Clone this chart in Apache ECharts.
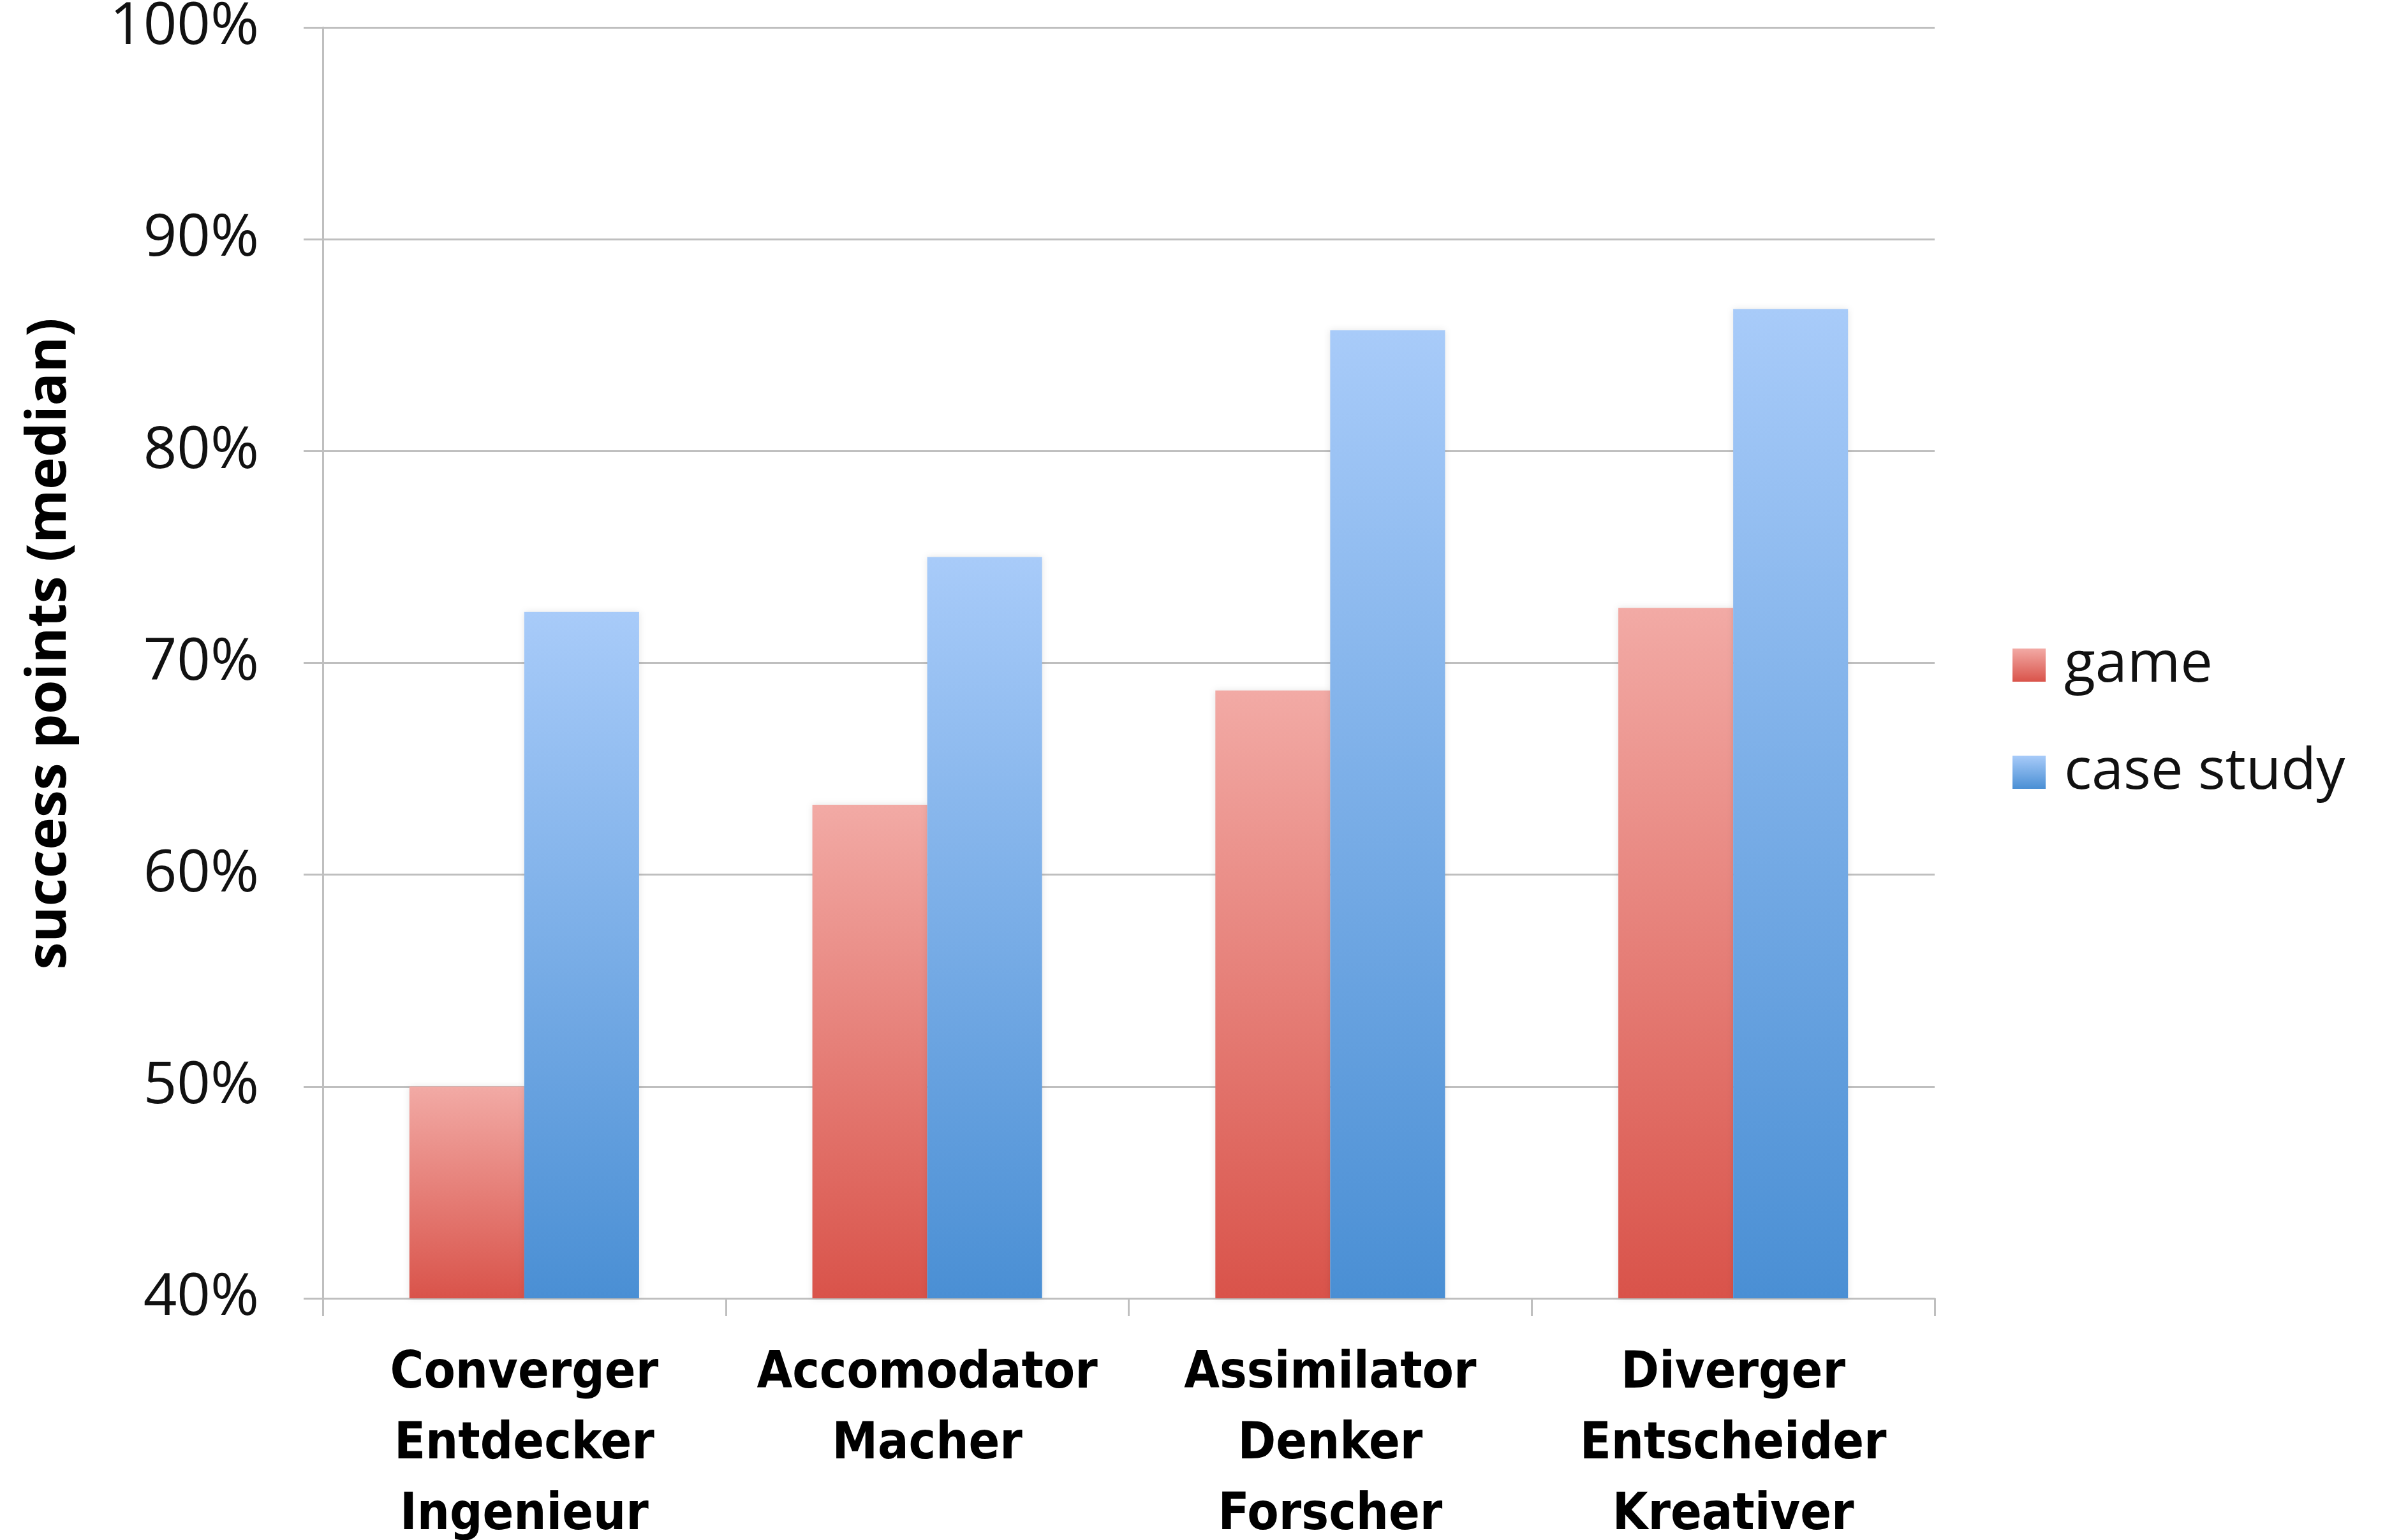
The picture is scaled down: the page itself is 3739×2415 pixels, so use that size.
<!DOCTYPE html>
<html>
<head>
<meta charset="utf-8">
<title>success points (median)</title>
<script src="https://cdn.jsdelivr.net/npm/echarts@6/dist/echarts.min.js"></script>
<style>
  html, body { margin: 0; padding: 0; background: #ffffff; }
  #chart { width: 3739px; height: 2415px; }
</style>
</head>
<body>
<div id="chart"></div>
<script>
// Learning-style groups (Kolb / German names), one label line per name
const categories = [
  'Converger\nEntdecker\nIngenieur',
  'Accomodator\nMacher',
  'Assimilator\nDenker\nForscher',
  'Diverger\nEntscheider\nKreativer'
];
// Median success points in percent
const gameValues = [50.0, 63.3, 68.7, 72.6];
const caseStudyValues = [72.4, 75.0, 85.7, 86.7];
const seriesNames = ['game', 'case study'];
const yAxisTitle = 'success points (median)';

const gridGrey = '#bfbfbf';

// Pick the first installed condensed bold face for the category labels
function pickCondensed() {
  const ctx = document.createElement('canvas').getContext('2d');
  const probe = 'Converger Entscheider';
  ctx.font = 'bold 96px monospace';
  const mono = ctx.measureText(probe).width;
  ctx.font = 'bold 96px serif';
  const serif = ctx.measureText(probe).width;
  const candidates = [
    ['Liberation Sans Narrow', 96],
    ['DejaVu Sans Condensed', 80],
    ['Roboto Condensed', 96],
    ['Open Sans Condensed', 96]
  ];
  for (const [fam, size] of candidates) {
    ctx.font = 'bold 96px "' + fam + '", monospace';
    const a = ctx.measureText(probe).width;
    ctx.font = 'bold 96px "' + fam + '", serif';
    const b = ctx.measureText(probe).width;
    if (a !== mono && b !== serif) return { family: '"' + fam + '"', size: size };
  }
  return { family: 'Roboto', size: 80 };
}
const catFont = pickCondensed();

function vGradient(top, bottom) {
  return new echarts.graphic.LinearGradient(0, 0, 0, 1, [
    { offset: 0, color: top },
    { offset: 1, color: bottom }
  ]);
}

const chart = echarts.init(document.getElementById('chart'));
chart.setOption({
  animation: false,
  backgroundColor: '#ffffff',
  grid: { left: 506, right: 706, top: 43, bottom: 379, outerBoundsMode: 'none' },
  legend: {
    orient: 'vertical',
    left: 3150,
    top: 993,
    itemWidth: 52,
    itemHeight: 52,
    itemGap: 78,
    icon: 'rect',
    textStyle: { fontFamily: 'Open Sans', fontSize: 90, color: '#111111', padding: [0, 0, 0, 24] },
    data: seriesNames
  },
  xAxis: {
    type: 'category',
    data: categories,
    axisLine: { show: true, lineStyle: { color: gridGrey, width: 3 } },
    axisTick: { show: true, length: 28, lineStyle: { color: gridGrey, width: 3 } },
    axisLabel: {
      interval: 0,
      margin: 64,
      fontFamily: catFont.family,
      fontWeight: 'bold',
      fontSize: catFont.size,
      lineHeight: 111,
      color: '#000000'
    }
  },
  yAxis: {
    type: 'value',
    min: 40,
    max: 100,
    interval: 10,
    name: yAxisTitle,
    nameLocation: 'middle',
    nameGap: 385,
    nameTextStyle: {
      fontFamily: 'Open Sans',
      fontWeight: 'bold',
      fontSize: 86,
      color: '#000000',
      padding: [0, 0, 0, 60]
    },
    axisLine: { show: true, lineStyle: { color: gridGrey, width: 3 } },
    axisTick: { show: true, length: 30, lineStyle: { color: gridGrey, width: 3 } },
    axisLabel: {
      margin: 100,
      formatter: '{value}%',
      fontFamily: 'Open Sans',
      fontSize: 92,
      color: '#111111'
    },
    splitLine: { show: true, lineStyle: { color: gridGrey, width: 3 } }
  },
  series: [
    {
      name: seriesNames[0],
      type: 'bar',
      data: gameValues,
      barGap: '0%',
      barCategoryGap: '43%',
      itemStyle: {
        color: vGradient('#f2aaa5', '#d9534a'),
        shadowColor: 'rgba(0,0,0,0.10)',
        shadowBlur: 10
      }
    },
    {
      name: seriesNames[1],
      type: 'bar',
      data: caseStudyValues,
      barGap: '0%',
      barCategoryGap: '43%',
      itemStyle: {
        color: vGradient('#a8cbf9', '#4a8fd4'),
        shadowColor: 'rgba(0,0,0,0.10)',
        shadowBlur: 10
      }
    }
  ]
});
</script>
</body>
</html>
